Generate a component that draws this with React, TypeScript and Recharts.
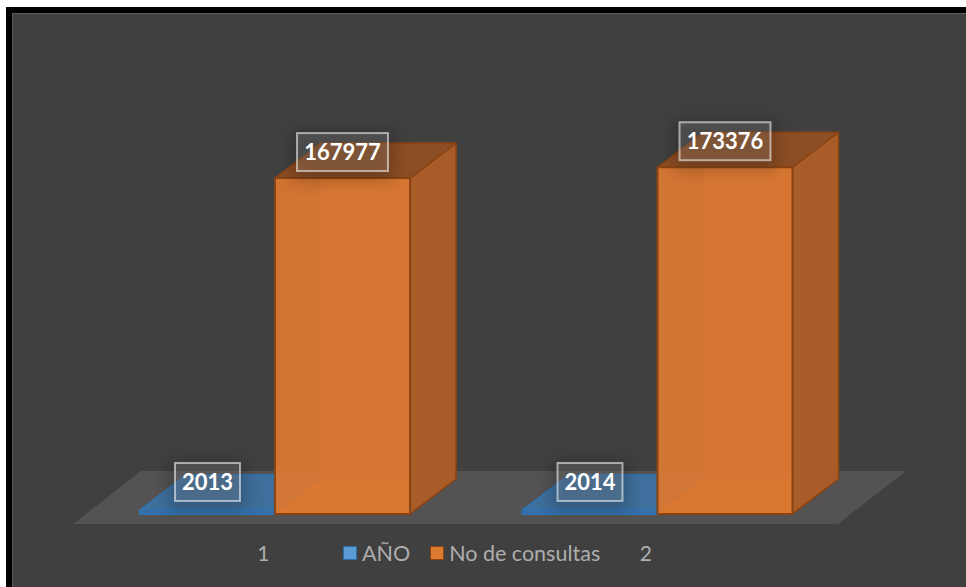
import React from 'react';
import { BarChart, Bar, XAxis, YAxis, LabelList, ReferenceArea } from 'recharts';

const categories = ['1', '2'];
const anoValues = [2013, 2014];
const consultasValues = [167977, 173376];
const seriesNames = ['AÑO', 'No de consultas'];

const data = categories.map((name, i) => ({
    name,
    ano: anoValues[i],
    consultas: consultasValues[i],
}));

// fake 3D depth of the bars
const DEPTH_X = 46;
const DEPTH_Y = 35;

const FONT = "Lato, 'Open Sans', sans-serif";

const pts = (...p: number[][]) => p.map((q) => q.join(',')).join(' ');

const makeBox = (fill: string, side: string, top: string, line: string) => (props: any) => {
    const { x, y, width, height } = props;
    const r = x + width;
    const b = y + height;
    const dx = DEPTH_X;
    const dy = DEPTH_Y;
    return (
        <g strokeLinejoin="round">
            {/* back and bottom faces show through the front */}
            <rect x={x + dx} y={y - dy} width={width} height={height} fill={fill} fillOpacity={0.55} stroke={line} strokeOpacity={0.4} />
            <polygon points={pts([x, b], [r, b], [r + dx, b - dy], [x + dx, b - dy])} fill={fill} stroke={line} strokeOpacity={0.4} />
            <polygon points={pts([r, y], [r + dx, y - dy], [r + dx, b - dy], [r, b])} fill={side} stroke={line} strokeWidth={1.5} />
            <polygon points={pts([x, y], [x + dx, y - dy], [r + dx, y - dy], [r, y])} fill={top} stroke={line} strokeWidth={1.5} />
            <rect x={x} y={y} width={width} height={height} fill={fill} fillOpacity={0.95} stroke={line} strokeWidth={2} />
        </g>
    );
};

const OrangeBox = makeBox('#da7732', '#a85c28', '#8c4e24', '#8a4312');
const BlueBox = makeBox('#3a6c9c', '#3a6a98', '#3f6f9c', '#2e75b6');

const Floor = (props: any) => {
    const { x, y, width, height } = props;
    const b = y + height + 10;
    return (
        <polygon
            points={pts([x - 11, b], [x + width - 11, b], [x + width + 57, b - 53], [x + 57, b - 53])}
            fill="#545252"
        />
    );
};

const BoxLabel = (props: any) => {
    const { x, width, y, value, lift } = props;
    const text = String(value);
    const w = text.length > 4 ? 91 : 65;
    const h = 38;
    const cx = x + width / 2;
    const cy = y - lift;
    return (
        <g>
            <rect x={cx - w / 2 - 6} y={cy - h / 2 - 2} width={w + 12} height={h + 12} fill="#000000" fillOpacity={0.22} filter="url(#labelShade)" />
            <rect x={cx - w / 2} y={cy - h / 2} width={w} height={h} fill="#ffffff" fillOpacity={0.12} stroke="#ffffff" strokeOpacity={0.55} strokeWidth={2} />
            <text x={cx} y={cy + 2} textAnchor="middle" dominantBaseline="middle" fill="#ffffff" fontSize={22} fontWeight={700} fontFamily={FONT}>
                {text}
            </text>
        </g>
    );
};

const CatTick = (props: any) => {
    const { x, y, payload } = props;
    return (
        <text x={x - 12} y={y + 34} textAnchor="middle" dominantBaseline="middle" fill="#aeaeae" fontSize={21} fontFamily={FONT}>
            {payload.value}
        </text>
    );
};

const legendColors = [
    { fill: '#5b9bd5', line: '#2e6da4' },
    { fill: '#dd7a31', line: '#8a4312' },
];

const LegendRow = () => (
    <div style={{ display: 'flex', alignItems: 'center', fontFamily: FONT, fontSize: 21.5, color: '#aeaeae' }}>
        {seriesNames.map((n, i) => (
            <span key={n} style={{ display: 'flex', alignItems: 'center', marginRight: 20 }}>
                <span style={{ width: 12, height: 12, background: legendColors[i].fill, border: `1px solid ${legendColors[i].line}`, marginRight: 5 }} />
                {n}
            </span>
        ))}
    </div>
);

const App = () => {
    return (
        <div style={{ position: 'fixed', left: 0, top: 0, width: 966, height: 587, background: '#ffffff', overflow: 'hidden' }}>
            <div style={{ position: 'absolute', left: 6, top: 7, right: 0, bottom: 0, background: '#000000' }} />
            <div style={{ position: 'absolute', left: 12, top: 13, right: 0, bottom: 0, background: '#404040', borderTop: '1px solid #5c5c5c', borderLeft: '1px solid #5c5c5c' }} />
            <div style={{ position: 'absolute', left: 0, top: 0 }}>
                <BarChart
                    width={966}
                    height={587}
                    data={data}
                    barGap={0}
                    barCategoryGap={56}
                    margin={{ top: 154, right: 117, left: 84, bottom: 0 }}
                >
                    <defs>
                        <filter id="labelShade" x="-30%" y="-30%" width="160%" height="160%">
                            <feGaussianBlur stdDeviation="8" />
                        </filter>
                    </defs>
                    <XAxis dataKey="name" axisLine={false} tickLine={false} tick={<CatTick />} height={73} />
                    <YAxis hide domain={[0, 180000]} width={0} />
                    <ReferenceArea x1="1" x2="2" y1={0} y2={180000} shape={<Floor />} />
                    <Bar dataKey="ano" name={seriesNames[0]} fill="#5b9bd5" shape={<BlueBox />} isAnimationActive={false}>
                        <LabelList dataKey="ano" content={<BoxLabel lift={28} />} />
                    </Bar>
                    <Bar dataKey="consultas" name={seriesNames[1]} fill="#dd7a31" shape={<OrangeBox />} isAnimationActive={false}>
                        <LabelList dataKey="consultas" content={<BoxLabel lift={26} />} />
                    </Bar>
                </BarChart>
            </div>
            <div style={{ position: 'absolute', left: 343, top: 540 }}>
                <LegendRow />
            </div>
        </div>
    );
};

export default App;
